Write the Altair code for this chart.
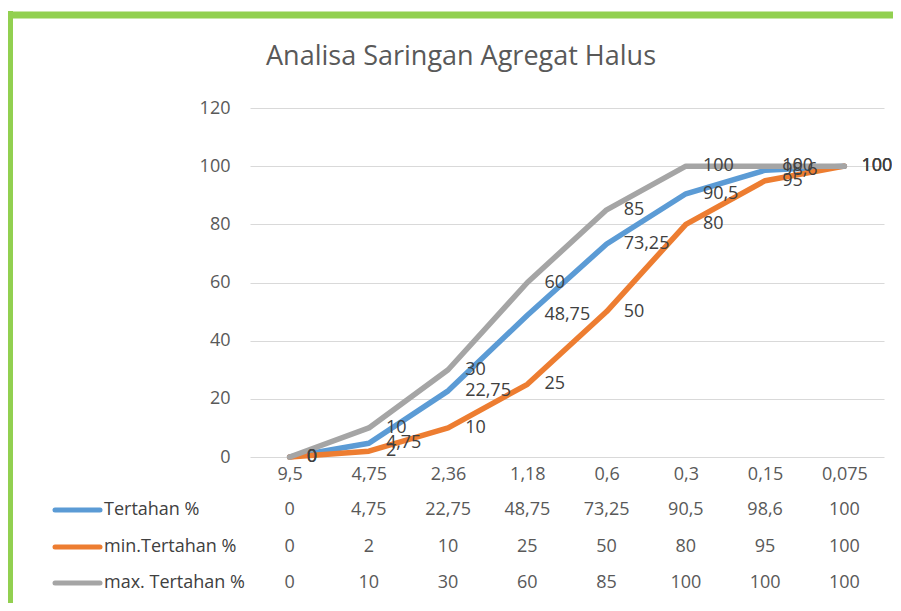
import altair as alt
import pandas as pd

# ---- data ----
sieves = ["9,5", "4,75", "2,36", "1,18", "0,6", "0,3", "0,15", "0,075"]
tertahan = [0, 4.75, 22.75, 48.75, 73.25, 90.5, 98.6, 100]
min_tertahan = [0, 2, 10, 25, 50, 80, 95, 100]
max_tertahan = [0, 10, 30, 60, 85, 100, 100, 100]
series_names = ["Tertahan %", "min.Tertahan %", "max. Tertahan %"]
series_colors = ["#5B9BD5", "#ED7D31", "#A5A5A5"]
title_text = "Analisa Saringan Agregat Halus"

FONT = "Open Sans"
TXT = "#404040"
AX = "#595959"


def fmt(v):
    return f"{v:g}".replace(".", ",")


frames = []
for name, vals in zip(series_names, [tertahan, min_tertahan, max_tertahan]):
    frames.append(pd.DataFrame({"sieve": sieves, "value": vals,
                                "label": [fmt(v) for v in vals], "series": name}))

x_enc = alt.X("sieve:N", sort=sieves,
              scale=alt.Scale(type="point", padding=0.5, domain=sieves),
              axis=alt.Axis(title=None, labelAngle=0, ticks=False, tickSize=0,
                            domain=False, grid=False, labelPadding=17,
                            labelBaseline="middle", labelFontSize=18,
                            labelColor=AX, labelFont=FONT))
y_enc = alt.Y("value:Q",
              scale=alt.Scale(domain=[0, 120], nice=False),
              axis=alt.Axis(title=None, values=[0, 20, 40, 60, 80, 100, 120],
                            ticks=False, tickSize=0, domain=False,
                            labelPadding=20, labelFontSize=18, labelColor=AX,
                            labelFont=FONT, gridColor="#D9D9D9", gridWidth=1))

layers = []
# lines
for df, col in zip(frames, series_colors):
    layers.append(alt.Chart(df).mark_line(strokeWidth=5.5, strokeCap="round",
                                          strokeJoin="round", color=col)
                  .encode(x=x_enc, y=y_enc))
# data labels
for df in frames:
    layers.append(alt.Chart(df).mark_text(align="left", baseline="middle", dx=17,
                                          fontSize=18, font=FONT, color=TXT)
                  .encode(x=alt.X("sieve:N", sort=sieves), y="value:Q", text="label:N"))

# data table rows + legend keys
row_y = [402, 439, 475]
for df, col, name, ry in zip(frames, series_colors, series_names, row_y):
    layers.append(alt.Chart(df).mark_text(align="center", baseline="middle",
                                          fontSize=18, font=FONT, color=AX)
                  .encode(x=alt.X("sieve:N", sort=sieves), y=alt.value(ry), text="label:N"))
    one = pd.DataFrame({"series": [name]})
    layers.append(alt.Chart(one).mark_rule(strokeWidth=5, strokeCap="round", color=col)
                  .encode(x=alt.value(-195), x2=alt.value(-150), y=alt.value(ry)))
    layers.append(alt.Chart(one).mark_text(align="left", baseline="middle",
                                           fontSize=18, font=FONT, color=TXT)
                  .encode(x=alt.value(-146), y=alt.value(ry), text="series:N"))

# title
tdf = pd.DataFrame({"t": [title_text]})
layers.append(alt.Chart(tdf).mark_text(align="center", baseline="middle",
                                       fontSize=27, font=FONT, color=AX)
              .encode(x=alt.value(211), y=alt.value(-51), text="t:N"))

# green frame
bdf = pd.DataFrame({"a": [0]})
layers.append(alt.Chart(bdf).mark_rule(strokeWidth=7, color="#92D050")
              .encode(x=alt.value(-245), x2=alt.value(660), y=alt.value(-93)))
layers.append(alt.Chart(bdf).mark_rule(strokeWidth=6, color="#92D050")
              .encode(x=alt.value(-240), y=alt.value(-97), y2=alt.value(500)))

chart = alt.layer(*layers).properties(
    width=634, height=349,
    padding={"left": 242, "top": 100, "right": 9, "bottom": 146},
    autosize=alt.AutoSizeParams(type="none"),
    background="white",
).configure_view(stroke=None)

chart.save("out.html", embed_options={"renderer": "svg", "actions": False})
